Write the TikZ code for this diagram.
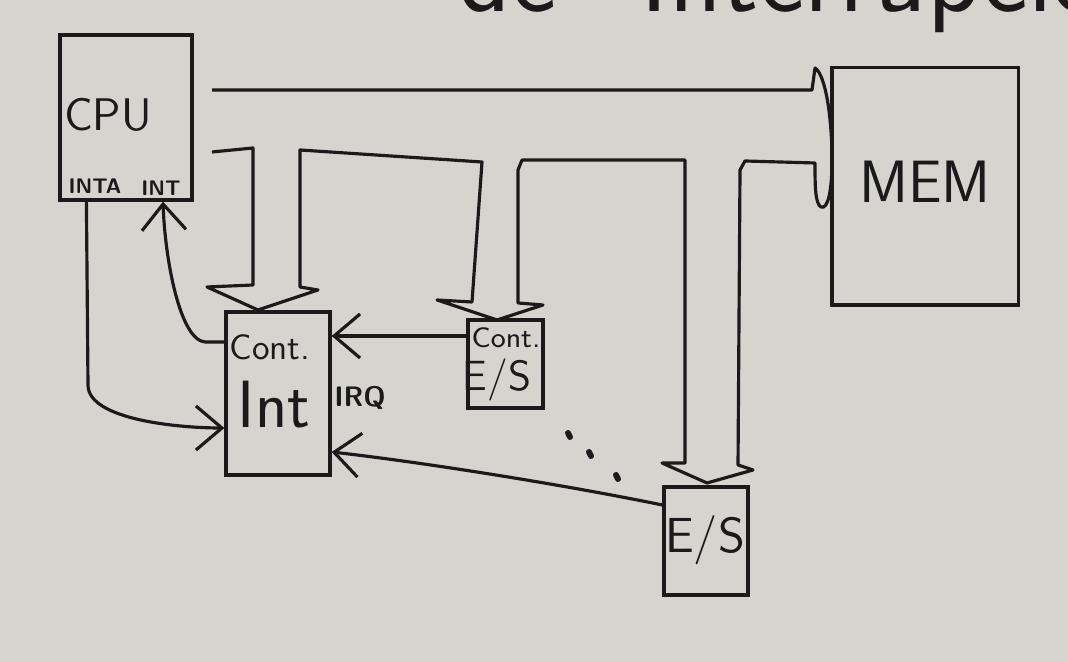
\documentclass[tikz,border=0pt]{standalone}
\usetikzlibrary{arrows.meta}
\definecolor{lavagna}{RGB}{213,212,207}
\definecolor{pennarello}{RGB}{26,26,26}
\tikzset{
    blocco/.style={draw=pennarello, line width=0.9pt, inner sep=0pt},
    scritta/.style={inner sep=0pt, text=pennarello, font=\sffamily},
    freccia/.style={->, line width=0.9pt}
}
\begin{document}
\begin{tikzpicture}[x=0.01cm, y=-0.01cm, line width=0.9pt, pennarello,
    >={Straight Barb[length=2.6mm,width=4.4mm]}]
    % Lavagna
    \useasboundingbox (0,0) rectangle (1068,662);
    \fill[lavagna] (0,0) rectangle (1068,662);
    \clip (0,0) rectangle (1068,662);
    \node[scritta, anchor=base west, font=\sffamily\fontsize{31}{33}\selectfont] (titolo) at (457,12) {de\hspace{0.5cm} Interrupciones};
    % Blocchi
    \node[blocco, minimum width=1.32cm, minimum height=1.65cm] (CPU) at (126,117.5) {};
    \node[blocco, minimum width=1.86cm, minimum height=2.37cm] (MEM) at (925,186.5) {};
    \node[blocco, minimum width=1.04cm, minimum height=1.63cm] (ContInt) at (278,393.5) {};
    \node[blocco, minimum width=0.75cm, minimum height=0.88cm] (ContES) at (505.5,364) {};
    \node[blocco, minimum width=0.84cm, minimum height=1.08cm] (ES) at (706,541) {};
    % Scritte
    \node[scritta, font=\sffamily\fontsize{13}{15}\selectfont] (tCPU) at (108,115) {CPU};
    \node[scritta, font=\sffamily\bfseries\fontsize{6}{7}\selectfont] (tINTA) at (95,186) {INTA};
    \node[scritta, font=\sffamily\bfseries\fontsize{6}{7}\selectfont] (tINT) at (161,188) {INT};
    \node[scritta, font=\sffamily\fontsize{17}{19}\selectfont] (tMEM) at (925,182) {MEM};
    \node[scritta, font=\sffamily\fontsize{10}{12}\selectfont] (tCont) at (270,347) {Cont.};
    \node[scritta, font=\sffamily\fontsize{19}{21}\selectfont] (tInt) at (274,405) {Int};
    \node[scritta, font=\sffamily\bfseries\fontsize{8}{10}\selectfont] (tIRQ) at (360,398) {IRQ};
    \node[scritta, font=\sffamily\fontsize{8}{10}\selectfont] (tContES) at (506,338) {Cont.};
    \node[scritta, font=\sffamily\fontsize{12}{14}\selectfont] (tCES) at (497,380) {E/S};
    \node[scritta, font=\sffamily\fontsize{14}{16}\selectfont] (tES) at (705,540) {E/S};
    % Bus
    \draw[line join=round] (212,90) -- (812,90) -- (815,68)
        .. controls (826,75) and (832,120) .. (832,160)
        .. controls (832,190) and (828,210) .. (821,207)
        .. controls (815,204) and (815,185) .. (815,163)
        -- (745,161) -- (740,170) -- (738,465) -- (753,470) -- (707,483)
        -- (662,463) -- (685,463) -- (685,160) -- (522,160) -- (518,170)
        -- (518,303) -- (543,305) -- (497,320) -- (437,300) -- (472,302)
        -- (482,162) -- (300,150) -- (300,287) -- (318,290) -- (258,310)
        -- (207,287) -- (253,285) -- (253,148) -- (212,152);
    % Linee
    \draw[freccia] ([xshift=2.8mm]CPU.south west) -- (88,385)
        .. controls (88,420) and (180,428) .. (ContInt.west |- 0,428); % INTA
    \draw[freccia] (ContInt.west |- 0,342) -- (205,342)
        .. controls (180,340) and (165,260) .. (163,0 |- CPU.south); % INT
    \draw[freccia] (ContES.west |- 0,336) -- (ContInt.east |- 0,336);
    \draw[freccia] (ES.west |- 0,505)
        .. controls (560,484) and (420,462) .. (ContInt.east |- 0,452);
    % Puntini
    \foreach \x/\y in {569/435, 590/454, 617/477}
        \draw[line width=1.7pt, line cap=round] (\x-1,\y-2) -- (\x+1,\y+2);
\end{tikzpicture}
\end{document}
